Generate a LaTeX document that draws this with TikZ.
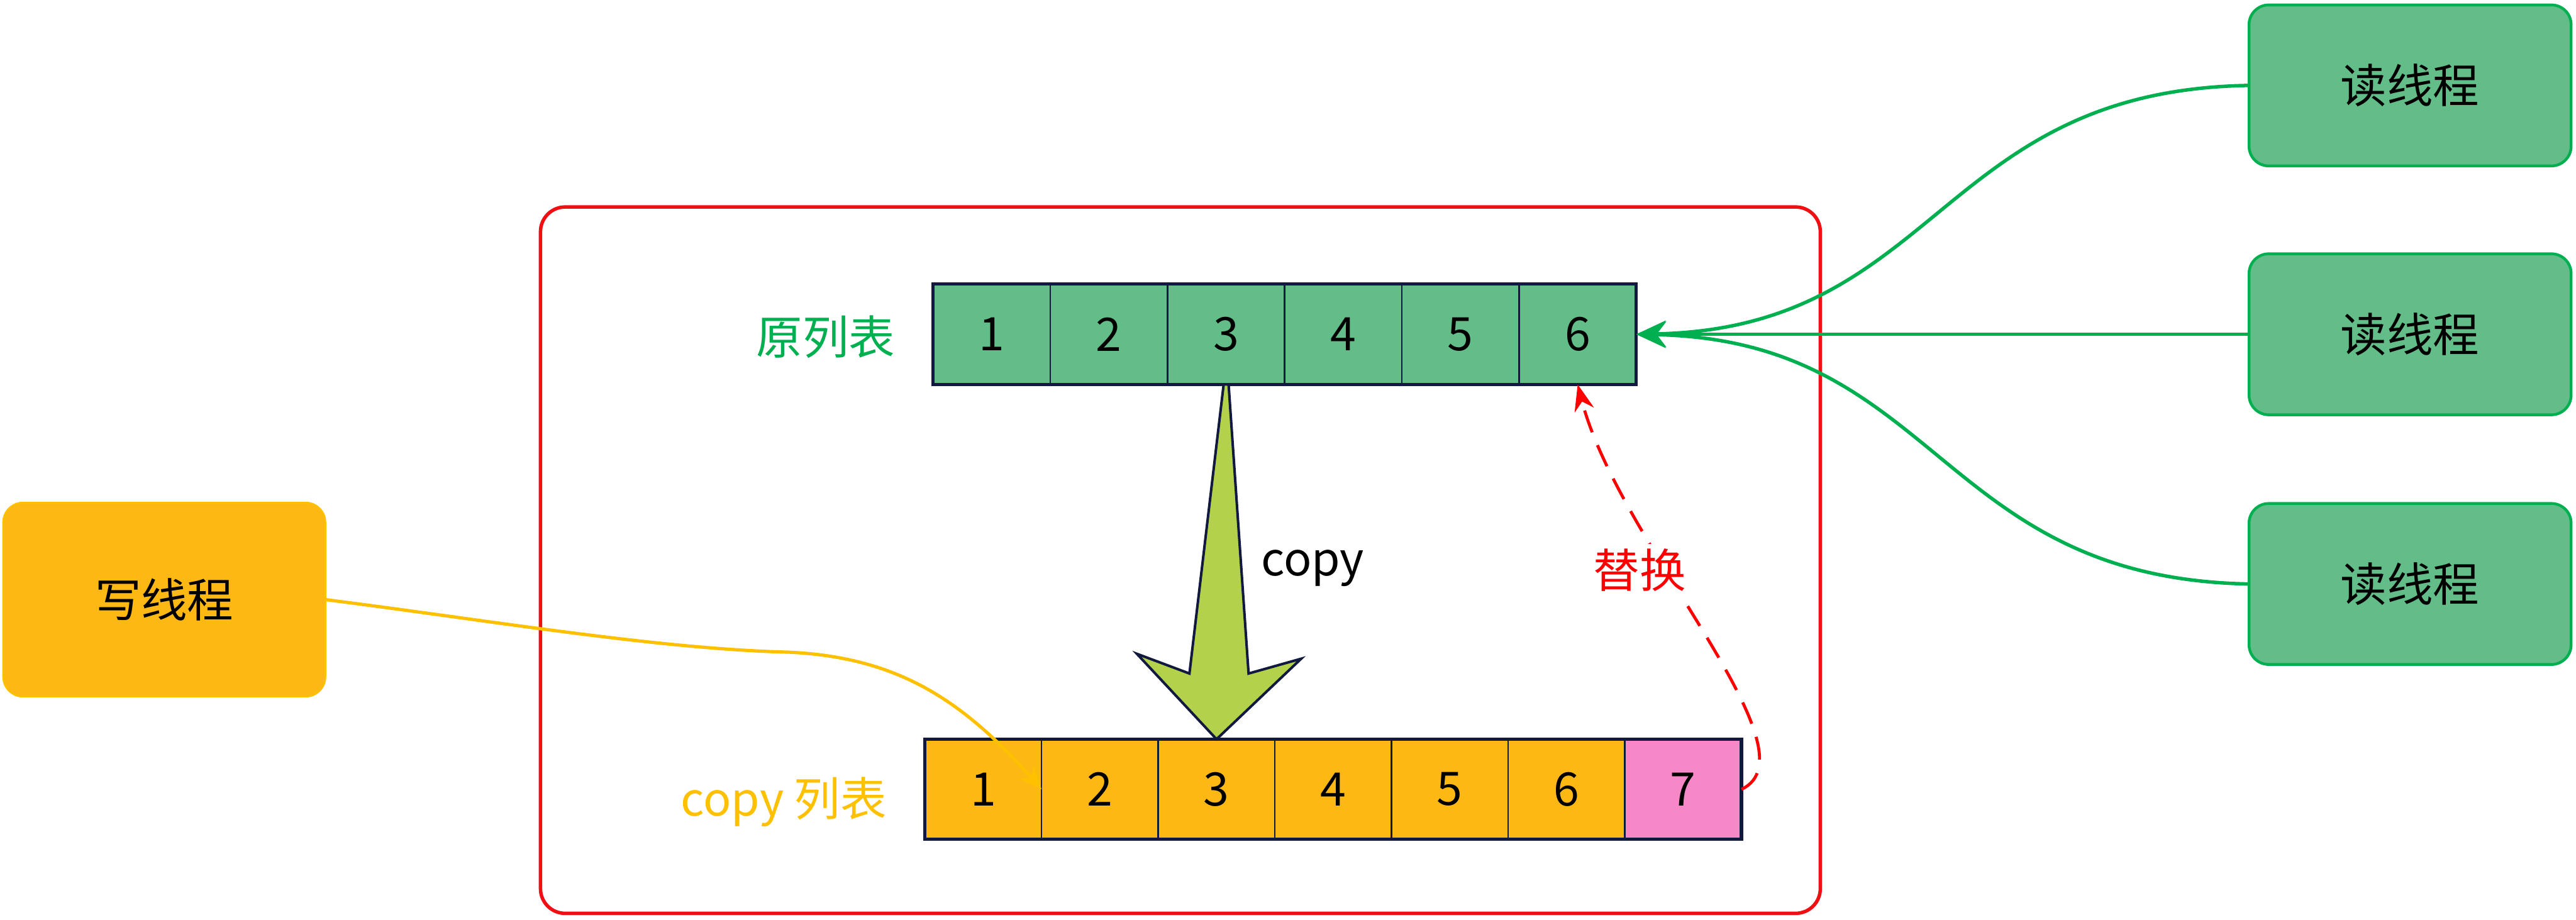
\documentclass[tikz,border=0pt]{standalone}
\usepackage{fontspec}
\setmainfont{Noto Sans CJK SC}
\usetikzlibrary{calc,arrows.meta}
\definecolor{cellgreen}{RGB}{98,189,136}
\definecolor{linegreen}{RGB}{0,176,80}
\definecolor{navy}{RGB}{17,26,62}
\definecolor{cellorange}{RGB}{253,184,19}
\definecolor{labelorange}{RGB}{255,192,0}
\definecolor{cellpink}{RGB}{247,136,200}
\definecolor{arrowgreen}{RGB}{179,209,75}
\definecolor{boxred}{RGB}{240,16,20}
\tikzset{
  every node/.style={font=\fontsize{20}{24}\selectfont},
  cellbox/.style={draw=navy, line width=0.7pt, minimum width=1.783cm, minimum height=1.525cm, inner sep=0pt, outer sep=0pt, text=black},
  ocell/.style={cellbox, fill=cellgreen},
  ccell/.style={cellbox, fill=cellorange, minimum width=1.775cm},
  readbox/.style={draw=linegreen, line width=1.2pt, fill=cellgreen, rounded corners=0.3cm, minimum width=4.9cm, minimum height=2.45cm, outer sep=0pt},
  writebox/.style={draw=labelorange, line width=0.8pt, fill=cellorange, rounded corners=0.3cm, minimum width=4.9cm, minimum height=2.95cm, outer sep=0pt},
  readline/.style={draw=linegreen, line width=1.5pt, -{Stealth[length=0.45cm,width=0.4cm]}},
}
\begin{document}
\begin{tikzpicture}[x=0.025cm, y=-0.025cm]
\useasboundingbox (0,0) rectangle (1568,560);
% container
\draw[boxred, line width=1.5pt, rounded corners=0.375cm] (329,126) rectangle (1108,556);
% original list
\foreach \i in {1,...,6} \node[ocell] (o\i) at ({568+71.333*(\i-0.5)},203.5) {\i};
\draw[navy, line width=1.4pt] (o1.north west) rectangle (o6.south east);
% copy list
\foreach \i in {1,...,6} \node[ccell] (c\i) at ({563+71*(\i-0.5)},480.5) {\i};
\node[ccell, fill=cellpink] (c7) at ({563+71*6.5},480.5) {7};
\draw[navy, line width=1.4pt] (c1.north west) rectangle (c7.south east);
% labels
\node[anchor=east, text=linegreen, inner sep=0pt] (lo) at (545,205) {原列表};
\node[anchor=east, text=labelorange, inner sep=0pt] (lc) at (540,488) {copy 列表};
% big copy arrow
\coordinate (at) at (o3.south);
\draw[fill=arrowgreen, draw=navy, line width=1.1pt, line join=miter]
  ($(at)+(-1.5,0)$) -- ($(at)+(1.5,0)$) -- (760,410) -- (792,401) -- (c3.north) -- (692,398) -- (724,410) -- cycle;
\node[text=black] (cp) at (799,346) {copy};
% red dashed replace
\draw[red, line width=1.3pt, dash pattern=on 10pt off 6pt, -{Stealth[length=0.4cm,width=0.3cm]}]
  (c7.east) .. controls (1108,458) and (985,330) .. (o6.south);
\node[text=red, fill=white, inner sep=2pt] (rp) at (998,347) {替换};
% read threads
\node[readbox] (r1) at (1467,52) {读线程};
\node[readbox] (r2) at (1467,203.5) {读线程};
\node[readbox] (r3) at (1467,355.5) {读线程};
\draw[readline] (r1.west) .. controls (1180,55) and (1180,200) .. (o6.east);
\draw[readline] (r2.west) -- (o6.east);
\draw[readline] (r3.west) .. controls (1180,352) and (1180,207) .. (o6.east);
% write thread
\node[writebox] (w) at (100,365) {写线程};
\draw[labelorange, line width=1.4pt, -{Stealth[length=0.35cm,width=0.3cm]}]
  (w.east) .. controls (300,378) and (400,395) .. (480,397) .. controls (545,400) and (585,425) .. (c1.east);
\end{tikzpicture}
\end{document}
